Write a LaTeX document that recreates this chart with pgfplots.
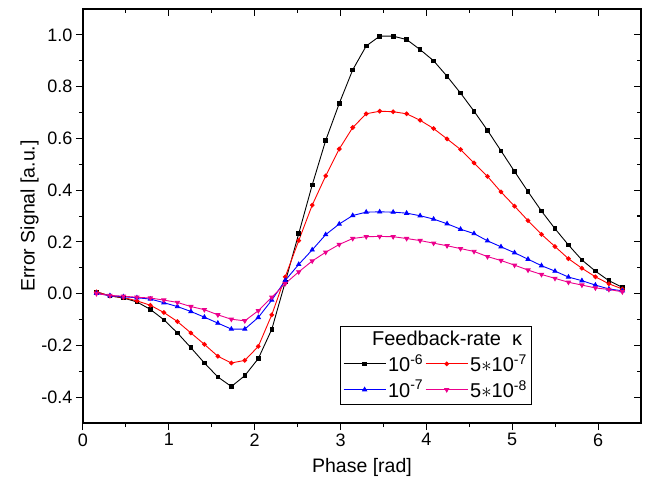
\documentclass[border=0pt]{standalone}
\usepackage{fontspec}
\setmainfont{Liberation Sans}
\usepackage{pgfplots}
\usepackage{pgfplotstable}
\pgfplotsset{compat=1.18}

% x = k*pi/20, a: 1e-6, b: 5e-7, c: 1e-7, d: 5e-8
\pgfplotstableread{
x     a      b      c      d
0.157  0.007  0.007  0.001  0.000
0.314 -0.009 -0.009 -0.008 -0.007
0.471 -0.017 -0.015 -0.012 -0.010
0.628 -0.032 -0.028 -0.016 -0.014
0.785 -0.061 -0.045 -0.021 -0.017
0.942 -0.101 -0.073 -0.035 -0.025
1.100 -0.152 -0.108 -0.050 -0.034
1.257 -0.209 -0.152 -0.069 -0.050
1.414 -0.268 -0.196 -0.091 -0.062
1.571 -0.322 -0.242 -0.114 -0.082
1.728 -0.359 -0.268 -0.137 -0.099
1.885 -0.317 -0.258 -0.137 -0.105
2.042 -0.251 -0.204 -0.092 -0.066
2.199 -0.138 -0.082 -0.025 -0.014
2.356  0.045  0.065  0.051  0.039
2.513  0.232  0.205  0.113  0.084
2.670  0.420  0.342  0.169  0.126
2.827  0.592  0.455  0.228  0.160
2.985  0.735  0.559  0.269  0.190
3.142  0.865  0.642  0.302  0.213
3.299  0.957  0.695  0.315  0.220
3.456  0.995  0.705  0.316  0.221
3.613  0.995  0.703  0.315  0.220
3.770  0.982  0.695  0.311  0.213
3.927  0.943  0.670  0.301  0.205
4.084  0.900  0.638  0.288  0.195
4.241  0.840  0.598  0.270  0.185
4.398  0.775  0.557  0.249  0.174
4.555  0.705  0.505  0.232  0.163
4.712  0.631  0.453  0.204  0.143
4.869  0.552  0.393  0.181  0.128
5.027  0.472  0.338  0.158  0.110
5.184  0.394  0.282  0.133  0.091
5.341  0.319  0.229  0.108  0.074
5.498  0.251  0.182  0.087  0.059
5.655  0.188  0.135  0.064  0.044
5.812  0.130  0.098  0.050  0.033
5.969  0.087  0.065  0.033  0.022
6.126  0.050  0.038  0.018  0.016
6.283  0.024  0.018  0.011  0.007
}\errdata

\begin{document}
\begin{tikzpicture}
\pgfplotsset{
  every axis/.append style={
    width=558pt, height=414pt, scale only axis,
    xmin=0, xmax=6.5, ymin=-0.5, ymax=1.1,
    xtick={0,1,...,6}, ytick={-0.4,-0.2,...,1.01},
    minor x tick num=1, minor y tick num=1,
    axis line style={line width=1.2pt},
    every tick/.style={black, line width=1pt},
    major tick length=7pt, minor tick length=4pt,
  }
}
\begin{axis}[
  name=main,
  tick align=outside, xtick pos=left, ytick pos=left,
  /pgf/number format/assume math mode=true,
  yticklabel style={/pgf/number format/.cd, fixed, fixed zerofill, precision=1},
  ticklabel style={font=\fontsize{18}{21}\selectfont},
  xlabel={Phase [rad]}, ylabel={Error Signal [a.u.]},
  label style={font=\fontsize{19.5}{23}\selectfont},
  xlabel style={yshift=-5pt}, ylabel style={yshift=-4pt},
  legend columns=2,
  legend style={at={(axis cs:2.99,-0.125)}, anchor=north west,
    draw=black, line width=1pt, font=\fontsize{20}{24}\selectfont,
    column sep=0pt, row sep=3pt, inner sep=3pt, cells={anchor=west}},
  legend image code/.code={\draw[mark repeat=2, mark phase=2, line width=0.9pt]
    plot coordinates {(0pt,0pt) (21pt,0pt) (42pt,0pt)};},
]
\addlegendimage{empty legend}
\addlegendentry{\makebox[0pt][l]{\hspace{-16pt}Feedback-rate\ \ κ}}
\addlegendimage{empty legend}
\addlegendentry{}
\addplot[black, line width=0.9pt, mark=square*, mark size=1.8pt] table[x=x,y=a]{\errdata};
\addlegendentry{10\textsuperscript{-6}}
\addplot[red, line width=0.9pt, mark=*, mark size=1.9pt] table[x=x,y=b]{\errdata};
\addlegendentry{5$\ast$10\textsuperscript{-7}}
\addplot[blue, line width=0.9pt, mark=triangle*, mark size=2.3pt] table[x=x,y=c]{\errdata};
\addlegendentry{10\textsuperscript{-7}}
\addplot[magenta, line width=0.9pt, mark=triangle*, mark size=2.3pt, mark options={rotate=180}] table[x=x,y=d]{\errdata};
\addlegendentry{5$\ast$10\textsuperscript{-8}}
\end{axis}
\begin{axis}[
  tick align=inside, xtick pos=right, ytick pos=right,
  xticklabels={}, yticklabels={},
]
\end{axis}
\pgfresetboundingbox
\path[use as bounding box] ([shift={(-83pt,-65pt)}]main.south west) rectangle ([shift={(5pt,9pt)}]main.north east);
\end{tikzpicture}
\end{document}
